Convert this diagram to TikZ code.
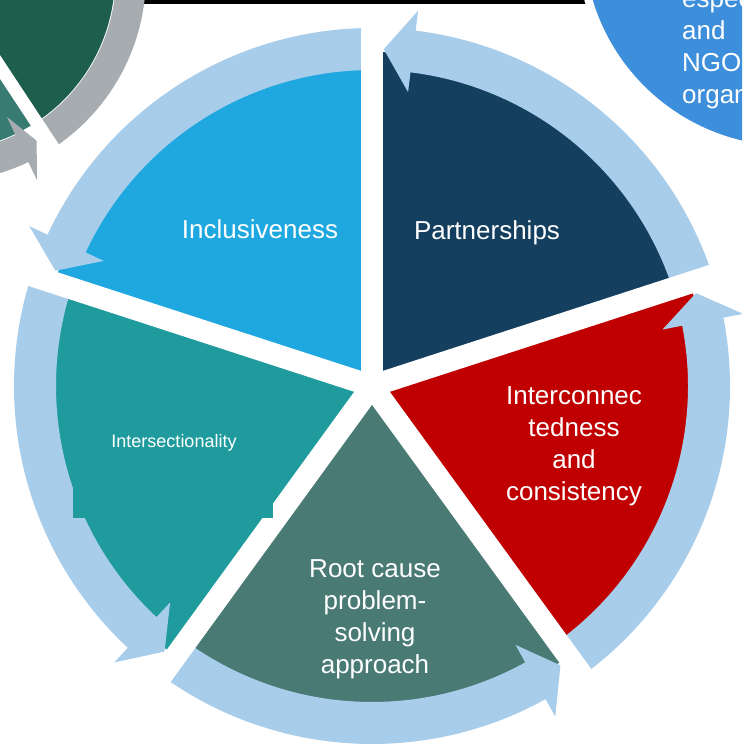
\documentclass[tikz,border=0pt]{standalone}
\usepackage{fontspec}
\setmainfont{Liberation Sans}
\usetikzlibrary{calc}
\definecolor{WheelNavy}{HTML}{143F5F}
\definecolor{WheelSky}{HTML}{1FA8E0}
\definecolor{WheelTeal}{HTML}{209B9D}
\definecolor{WheelSlate}{HTML}{4A7A74}
\definecolor{WheelRed}{HTML}{C00000}
\definecolor{WheelRing}{HTML}{A8CDEA}
\definecolor{CornerGreen}{HTML}{1E5E4C}
\definecolor{CornerTeal}{HTML}{387B72}
\definecolor{CornerGray}{HTML}{A7ACB0}
\definecolor{CornerBlue}{HTML}{3D8EDB}

\begin{document}
\begin{tikzpicture}[x=1pt,y=1pt]
    \tikzstyle{l}=[text=white, align=center, font=\fontsize{26}{32}\selectfont]
    \tikzstyle{gap}=[draw=white, line width=22pt]
    \tikzstyle{smallgap}=[draw=white, line width=13pt]

    \useasboundingbox (0,0) rectangle (742,750);
    \clip (0,0) rectangle (742,750);

    % rule along the top
    \coordinate (rule_l) at (120,748);
    \coordinate (rule_r) at (600,748);
    \draw[line width=4.5pt] (rule_l) -- (rule_r);

    % wheel in the left corner
    \coordinate (corner_c) at (-60,774);
    \begin{scope}[shift={(corner_c)}]
        \fill[CornerTeal] (0,0) -- (-128.6:175) arc[start angle=-128.6, end angle=-56.6, radius=175] -- cycle;
        \fill[CornerGreen] (0,0) -- (-56.6:175) arc[start angle=-56.6, end angle=15.4, radius=175] -- cycle;
        \foreach \a in {-128.6,-56.6}
            \fill[CornerGray] (\a:176) arc[start angle=\a, end angle=\a+64, radius=176] -- (\a+64:156) -- (\a+69:191)
                -- (\a+64:226) -- (\a+64:206) arc[start angle=\a+64, end angle=\a, radius=206] -- cycle;
        \foreach \a in {-128.6,-56.6,15.4}
            \draw[smallgap] (0,0) -- (\a:240);
    \end{scope}

    % main wheel
    \coordinate (wheel_c) at (372,364);
    \begin{scope}[shift={(wheel_c)}]
        \foreach \a/\col in {18/WheelNavy,90/WheelSky,162/WheelTeal,234/WheelSlate,306/WheelRed}
            \fill[\col] (0,0) -- (\a:334) arc[start angle=\a, end angle=\a+72, radius=334] -- cycle;
        % ring of arrows
        \foreach \a in {18,90,162,234,306}
            \fill[WheelRing] (\a:316) arc[start angle=\a, end angle=\a+65, radius=316] -- (\a+65:296) -- (\a+70:337)
                -- (\a+65:378) -- (\a+65:358) arc[start angle=\a+65, end angle=\a, radius=358] -- cycle;
        \foreach \a in {18,90,162,234,306}
            \draw[gap] (0,0) -- (\a:370);
    \end{scope}

    % text box behind intersectionality
    \fill[WheelTeal] (73,232) rectangle (273,383);

    % labels
    \node[l] (part_label) at (487,517) {Partnerships};
    \node[l] (incl_label) at (260,521) {Inclusiveness};
    \node[text=white, font=\fontsize{18}{22}\selectfont] (inter_label) at (174,307) {Intersectionality};
    \node[l] (root_label) at (375,131) {Root cause\\problem-\\solving\\approach};
    \node[l] (conn_label) at (574,304) {Interconnec\\tedness\\and\\consistency};

    % circle in the right corner
    \coordinate (blob_c) at (789,809);
    \fill[CornerBlue, draw=white, line width=8pt] (blob_c) circle[radius=209];
    \foreach \w [count=\i] in {espec,and,NGO,organ}
        \node[anchor=base west, text=white, font=\fontsize{26}{32}\selectfont, inner sep=0pt] (blob_\i) at (682,774-32*\i) {\w};
\end{tikzpicture}
\end{document}
